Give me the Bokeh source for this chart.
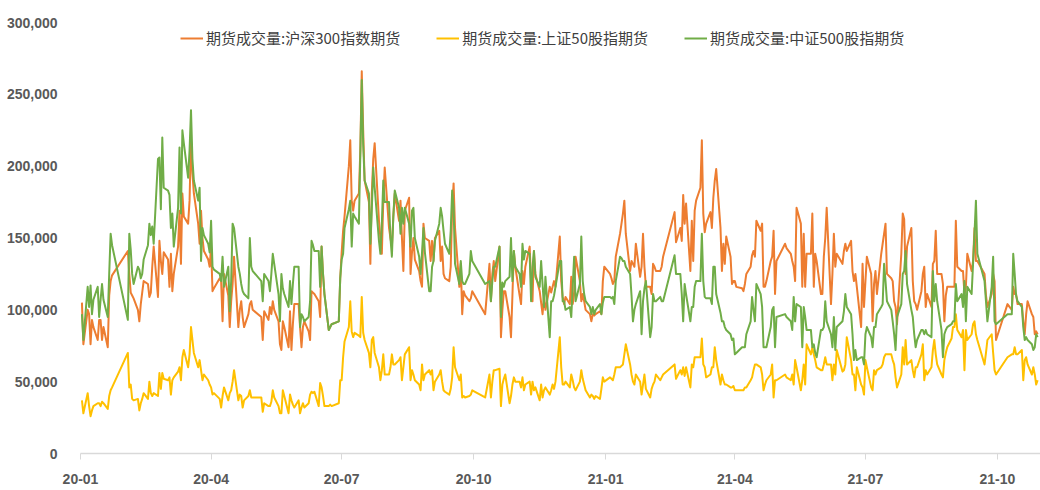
import pandas as pd
from bokeh.plotting import figure
from bokeh.models import (ColumnDataSource, Range1d, FixedTicker, NumeralTickFormatter,
                          DatetimeTickFormatter, Legend, LegendItem)
from bokeh.embed import file_html
from bokeh.resources import INLINE

# ---- data (daily futures volume, in thousands of contracts) ----
SERIES_NAMES = ["期货成交量:沪深300指数期货", "期货成交量:上证50股指期货", "期货成交量:中证500股指期货"]
SERIES_COLORS = ["#ED7D31", "#FFC000", "#70AD47"]

HOLIDAYS = ["2020-01-01", "2020-01-24", "2020-01-27", "2020-01-28", "2020-01-29", "2020-01-30",
            "2020-01-31", "2020-04-06", "2020-05-01", "2020-05-04", "2020-05-05", "2020-06-25",
            "2020-06-26", "2020-10-01", "2020-10-02", "2020-10-05", "2020-10-06", "2020-10-07",
            "2020-10-08", "2021-01-01", "2021-02-11", "2021-02-12", "2021-02-15", "2021-02-16",
            "2021-02-17", "2021-04-05", "2021-05-03", "2021-05-04", "2021-05-05", "2021-06-14",
            "2021-09-20", "2021-09-21", "2021-10-01", "2021-10-04", "2021-10-05", "2021-10-06",
            "2021-10-07"]

hs300_k = [
    105, 76, 100, 97, 76, 93, 88, 79, 93, 93, 79, 88, 74, 110, 120, 124,
    141, 125, 112, 110, 108, 100, 92, 104, 112, 120, 118, 109, 112, 130, 144, 109, 148, 134, 125, 140,
    135, 116, 139, 113, 125, 144, 169, 132, 181, 165, 160, 176, 220, 195, 181, 160, 146, 169, 150, 141, 135, 130,
    144, 113, 115, 122, 120, 92, 125, 110, 88, 106, 118, 137, 88, 100, 106, 95, 88, 97, 104, 106, 100,
    95, 79, 99, 93, 102, 97, 106, 100, 92, 76, 72, 92, 88, 74, 99, 72, 90, 104,
    104, 88, 74, 88, 92, 85, 79, 113, 112, 111, 106, 95, 144, 125, 111, 86, 88, 90, 92, 122,
    140, 155, 165, 200, 218, 176, 169, 176, 181, 211, 266, 225, 190, 175, 132, 181, 205, 216, 162, 150, 139, 176, 199,
    157, 150, 144, 165, 181, 162, 176, 150, 127, 169, 178, 125, 140, 150, 135, 127, 120, 116, 160, 150, 148,
    134, 148, 134, 150, 155, 134, 144, 125, 122, 120, 130, 170, 188, 157, 116, 132, 97, 113, 110, 106, 108, 113,
    97, 132, 106, 125, 134, 120, 144, 81, 100, 113, 113, 95, 81, 110, 141, 130,
    110, 104, 127, 118, 130, 144, 120, 106, 141, 125, 113, 105, 97, 109, 100, 116, 112, 116, 120, 116, 151,
    120, 109, 104, 109, 104, 123, 104, 111, 137, 120, 106, 111, 106, 100, 97, 92, 97, 96, 97, 99, 97, 120, 130,
    125, 122, 118, 120, 137, 153, 160, 167, 176, 153, 127, 134, 132, 130, 146, 123, 130, 153, 130, 116,
    116, 111, 132, 130, 127, 127, 130, 137, 168, 147, 157, 148, 180, 160, 174,
    127, 162, 134, 169, 176, 185, 218, 167, 154, 160, 168, 157, 178, 190, 198, 157, 127, 146, 132, 151, 137, 118, 120,
    120, 116, 115, 113, 118, 125, 130, 138, 141, 137, 162, 155, 160, 116, 116, 120, 134, 137, 155, 111, 134,
    146, 143, 139, 134, 130, 120, 171, 160, 116, 153, 116, 139, 139, 167, 116, 139, 134, 111,
    111, 137, 150, 171, 104, 125, 153, 130, 139, 132, 141, 146, 141, 148, 127, 120, 125, 116, 88, 132, 102,
    120, 137, 125, 92, 118, 127, 111, 139, 146, 153, 160, 125, 122, 120, 106, 102, 90, 139, 167, 163, 125, 144,
    157, 120, 106, 104, 100, 113, 125, 130, 102, 111, 102, 132, 134, 155, 125, 125, 118, 92, 110, 116, 116, 116,
    116, 162, 130, 127, 127, 111, 116, 139, 127, 134, 157, 134, 134, 125, 110, 102, 111, 125, 120, 79,
    104, 100, 116, 111, 111, 104, 104, 92, 83, 97, 106, 97, 95, 83, 85, 83,
]

sse50_k = [
    37, 28, 42, 33, 26, 30, 33, 35, 35, 33, 36, 35, 31, 40, 44, 46,
    70, 46, 48, 38, 37, 38, 30, 35, 38, 42, 38, 50, 42, 40, 42, 40, 56, 45, 56, 52,
    51, 53, 41, 51, 53, 57, 60, 51, 67, 72, 60, 69, 88, 79, 70, 60, 65, 58, 51, 55, 51, 48,
    46, 41, 42, 38, 32, 40, 46, 37, 42, 44, 50, 58, 37, 41, 40, 32, 37, 40, 44, 39, 39,
    39, 29, 35, 33, 33, 36, 44, 39, 33, 28, 28, 44, 40, 28, 41, 37, 34, 32,
    37, 28, 32, 35, 32, 35, 41, 43, 42, 43, 33, 49, 46, 40, 33, 33, 34, 33, 35, 51,
    51, 67, 78, 88, 106, 85, 81, 84, 82, 81, 109, 84, 79, 70, 60, 79, 81, 70, 60, 51, 58, 69, 55,
    55, 60, 69, 62, 62, 65, 67, 51, 60, 69, 74, 51, 58, 55, 51, 48, 44, 62, 51, 55, 58,
    55, 58, 44, 50, 55, 58, 50, 44, 43, 41, 45, 53, 74, 60, 51, 55, 39, 40, 39, 40, 41, 44,
    39, 55, 39, 50, 58, 58, 59, 33, 48, 52, 55, 35, 40, 48, 53, 50,
    50, 46, 53, 44, 48, 50, 41, 50, 44, 46, 37, 48, 39, 44, 46, 41, 44, 48, 45, 50, 81,
    60, 48, 48, 50, 46, 55, 51, 46, 44, 50, 58, 52, 48, 44, 39, 41, 40, 38, 40, 38, 45, 53, 50,
    53, 52, 51, 55, 60, 60, 61, 62, 69, 76, 62, 55, 50, 48, 55, 50, 41, 48, 55, 45,
    39, 45, 48, 50, 55, 51, 53, 55, 62, 52, 58, 55, 60, 54, 60,
    46, 62, 60, 67, 67, 67, 80, 62, 60, 53, 55, 60, 60, 74, 65, 48, 55, 51, 48, 48, 46, 46, 47,
    44, 44, 44, 44, 46, 46, 51, 53, 58, 62, 62, 60, 55, 44, 48, 51, 55, 62, 39, 51, 51,
    55, 53, 51, 55, 48, 65, 60, 44, 51, 62, 48, 76, 69, 74, 69, 65, 60, 58,
    58, 62, 67, 62, 62, 51, 62, 55, 72, 57, 58, 62, 81, 65, 55, 55, 44, 60, 48, 46, 41,
    65, 60, 46, 44, 58, 55, 58, 60, 62, 67, 69, 69, 69, 65, 62, 53, 46, 55, 74, 62, 79, 62,
    65, 58, 53, 60, 60, 69, 76, 51, 58, 55, 60, 72, 79, 69, 62, 55, 53, 65, 70, 74, 80, 88,
    88, 97, 86, 81, 86, 58, 86, 79, 83, 90, 92, 83, 79, 62, 70, 79, 83, 70, 58, 55,
    67, 69, 69, 74, 69, 69, 72, 51, 65, 67, 62, 55, 60, 55, 48, 51,
]

csi500_k = [
    97, 79, 116, 102, 117, 97, 107, 116, 95, 107, 118, 107, 95, 125, 153, 145,
    93, 153, 142, 125, 118, 130, 128, 122, 125, 135, 145, 160, 152, 158, 146, 205, 206, 170, 220, 185,
    183, 180, 157, 167, 144, 171, 213, 167, 225, 216, 192, 211, 239, 205, 190, 176, 185, 134, 157, 152, 146, 140,
    162, 130, 128, 125, 120, 137, 116, 130, 99, 120, 160, 157, 130, 125, 118, 113, 111, 108, 150, 130, 127,
    120, 106, 125, 120, 113, 125, 139, 132, 111, 92, 125, 115, 111, 102, 120, 104, 118, 130,
    130, 88, 97, 95, 92, 95, 106, 148, 145, 141, 141, 116, 144, 125, 111, 86, 88, 90, 92, 122,
    135, 139, 157, 170, 176, 144, 167, 165, 160, 208, 260, 215, 190, 181, 146, 170, 199, 185, 148, 139, 160, 190, 175,
    175, 150, 137, 165, 183, 171, 153, 171, 160, 171, 160, 144, 169, 171, 150, 137, 125, 140, 157, 140, 113,
    113, 130, 134, 148, 160, 171, 165, 155, 146, 139, 155, 183, 171, 132, 118, 134, 120, 118, 118, 125, 141, 134,
    118, 120, 106, 120, 130, 130, 144, 95, 119, 116, 120, 123, 150, 120, 141, 130,
    125, 116, 146, 135, 141, 139, 106, 130, 141, 123, 116, 134, 118, 102, 123, 81, 106, 106, 110, 116, 134,
    134, 106, 106, 100, 102, 95, 116, 137, 106, 118, 151, 120, 111, 106, 102, 97, 102, 97, 100, 104, 97, 105, 109,
    109, 108, 109, 104, 120, 137, 136, 134, 134, 130, 125, 110, 92, 100, 104, 113, 83, 106, 115, 120,
    81, 88, 111, 106, 106, 109, 106, 106, 138, 125, 125, 111, 92, 118, 111,
    92, 102, 102, 116, 120, 120, 153, 120, 109, 108, 108, 104, 130, 130, 111, 98, 92, 92, 88, 86, 83, 79, 80,
    69, 70, 74, 74, 74, 83, 92, 109, 100, 92, 118, 111, 102, 74, 74, 74, 88, 100, 102, 74, 95,
    97, 95, 92, 86, 109, 92, 104, 102, 74, 102, 95, 86, 86, 74, 76, 70, 67, 86,
    86, 88, 106, 92, 83, 74, 95, 72, 88, 92, 99, 111, 102, 97, 83, 65, 72, 65, 67, 67, 62,
    83, 88, 81, 74, 88, 88, 97, 102, 104, 132, 120, 106, 100, 92, 83, 72, 95, 104, 125, 127, 141, 118,
    100, 95, 83, 74, 79, 86, 86, 83, 86, 83, 81, 127, 106, 118, 106, 86, 67, 83, 86, 88, 90, 92,
    92, 118, 106, 111, 102, 120, 92, 116, 111, 132, 153, 176, 139, 120, 106, 92, 116, 137, 92, 90,
    97, 97, 139, 125, 110, 106, 102, 88, 79, 81, 79, 76, 72, 74, 83, 81,
]

Y_TICKS = [0, 50000, 100000, 150000, 200000, 250000, 300000]
X_TICK_DATES = ["2020-01-01", "2020-04-01", "2020-07-01", "2020-10-01",
                "2021-01-01", "2021-04-01", "2021-07-01", "2021-10-01"]

# ---- trading-day calendar ----
hol = set(HOLIDAYS)
dates = [d for d in pd.bdate_range("2020-01-02", "2021-10-29") if d.strftime("%Y-%m-%d") not in hol]
n = len(dates)
assert len(hs300_k) == n, (len(hs300_k), n)
assert len(sse50_k) == n, (len(sse50_k), n)
assert len(csi500_k) == n, (len(csi500_k), n)

src = ColumnDataSource(dict(
    date=dates,
    hs300=[v * 1000 for v in hs300_k],
    sse50=[v * 1000 for v in sse50_k],
    csi500=[v * 1000 for v in csi500_k],
))

p = figure(width=1040, height=490, x_axis_type="datetime",
           output_backend="svg", toolbar_location=None,
           x_range=Range1d(pd.Timestamp("2020-01-01"), pd.Timestamp("2021-10-31")),
           y_range=Range1d(0, 300000),
           min_border_left=80, min_border_right=0, min_border_top=22, min_border_bottom=37)
p.outline_line_color = None
p.background_fill_color = "white"
p.border_fill_color = "white"
p.xgrid.visible = False
p.ygrid.visible = False

r_hs = p.line("date", "hs300", source=src, line_color=SERIES_COLORS[0], line_width=2, line_join="round")
r_sz = p.line("date", "sse50", source=src, line_color=SERIES_COLORS[1], line_width=2, line_join="round")
r_zz = p.line("date", "csi500", source=src, line_color=SERIES_COLORS[2], line_width=2, line_join="round")

# y axis
ya = p.yaxis[0]
ya.ticker = FixedTicker(ticks=Y_TICKS)
ya.formatter = NumeralTickFormatter(format="0,0")
ya.axis_line_color = None
ya.major_tick_line_color = None
ya.minor_tick_line_color = None
ya.major_label_standoff = 17
ya.major_label_text_font = "Liberation Sans"
ya.major_label_text_font_style = "bold"
ya.major_label_text_font_size = "14px"
ya.major_label_text_color = "#595959"

# x axis
xa = p.xaxis[0]
xa.ticker = FixedTicker(ticks=[pd.Timestamp(d).timestamp() * 1000 for d in X_TICK_DATES])
fmt = "%y-%m"
xa.formatter = DatetimeTickFormatter(microseconds=fmt, milliseconds=fmt, seconds=fmt, minsec=fmt,
                                     minutes=fmt, hourmin=fmt, hours=fmt, days=fmt, months=fmt, years=fmt)
xa.axis_line_color = "#d9d9d9"
xa.axis_line_width = 1.5
xa.major_tick_line_color = "#d9d9d9"
xa.major_tick_out = 6
xa.major_tick_in = 0
xa.minor_tick_line_color = None
xa.major_label_standoff = 14
xa.major_label_text_font = "Liberation Sans"
xa.major_label_text_font_style = "bold"
xa.major_label_text_font_size = "14px"
xa.major_label_text_color = "#595959"

legend = Legend(items=[LegendItem(label=SERIES_NAMES[0], renderers=[r_hs]),
                       LegendItem(label=SERIES_NAMES[1], renderers=[r_sz]),
                       LegendItem(label=SERIES_NAMES[2], renderers=[r_zz])],
                orientation="horizontal", location=(96, 401),
                glyph_width=23, glyph_height=20, label_standoff=3, spacing=36,
                padding=4, margin=0,
                label_text_font="Noto Sans CJK SC", label_text_font_size="15px",
                label_text_color="#404040",
                background_fill_alpha=0, border_line_alpha=0)
p.add_layout(legend, "center")

open("out.html", "w").write(file_html(p, INLINE))
